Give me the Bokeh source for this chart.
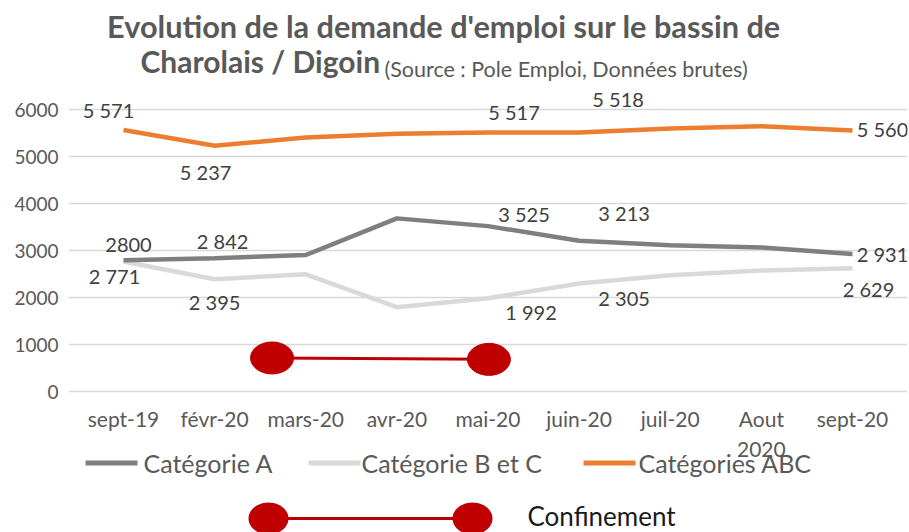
import math
from bokeh.plotting import figure
from bokeh.models import (ColumnDataSource, Label, LabelSet, PolyAnnotation, BoxAnnotation,
                          FixedTicker, Range1d, FactorRange)
from bokeh.core.properties import value
from bokeh.embed import file_html
from bokeh.resources import INLINE

# ---------------- data ----------------
months = ["sept-19", "févr-20", "mars-20", "avr-20", "mai-20", "juin-20", "juil-20", "Aout\n2020", "sept-20"]
cat_a = [2800, 2842, 2910, 3690, 3525, 3213, 3120, 3070, 2931]
cat_bc = [2771, 2395, 2500, 1800, 1992, 2305, 2480, 2580, 2629]
cat_abc = [5571, 5237, 5410, 5490, 5517, 5518, 5600, 5650, 5560]
y_ticks = [0, 1000, 2000, 3000, 4000, 5000, 6000]

label_idx = [0, 1, 4, 5, 8]
abc_labels = ["5 571", "5 237", "5 517", "5 518", "5 560"]
a_labels = ["2800", "2 842", "3 525", "3 213", "2 931"]
bc_labels = ["2 771", "2 395", "1 992", "2 305", "2 629"]

series_names = ["Catégorie A", "Catégorie B et C", "Catégories ABC"]
conf_name = "Confinement"
conf_x = [2.13, 4.51]   # synthetic category positions (between févr/mars -> mai)
conf_y = [720, 690]

title_1 = "Evolution de la demande d'emploi sur le bassin de"
title_2a = "Charolais / Digoin"
title_2b = "(Source : Pole Emploi, Données brutes)"

# ---------------- styles / layout ----------------
FONT = "Lato"
C_A = "#7F7F7F"
C_BC = "#D9D9D9"
C_ABC = "#ED7D31"
C_CONF = "#C00000"
TXT = "#404040"
AX = "#595959"

W, H = 909, 532
LEFT, RIGHT = 68, 907          # frame pixel extent
PAD = 0.1036                    # factor range padding
PX0, PX_PER_K = 391.3, 0.047    # y pixel of 0 and px per unit
Y1 = PX0 / PX_PER_K
Y0 = -(H - PX0) / PX_PER_K

def dx(X):   # pixel -> synthetic x
    return -PAD + (X - LEFT) / (RIGHT - LEFT) * (len(months) + 2 * PAD)
def dy(Y):   # pixel -> data y
    return Y1 - Y / H * (Y1 - Y0)

# label offsets in px (dx, up)
abc_off = [(-15, 20), (-9, -26), (26, 21), (39, 33), (30, 1)]
a_off = [(5, 15), (8, 17), (36, 12), (45, 28), (30, 0)]
bc_off = [(-9, -14), (0, -23), (43, -14), (45, -15), (16, -21)]

xr = FactorRange(*months, range_padding=PAD, range_padding_units="absolute")
p = figure(x_range=xr, y_range=Range1d(Y0, Y1),
           frame_width=RIGHT - LEFT, frame_height=H,
           min_border_left=LEFT, min_border_right=W - RIGHT, min_border_top=0, min_border_bottom=0,
           output_backend="svg", toolbar_location=None)
p.outline_line_color = None
p.background_fill_color = "white"
p.xgrid.grid_line_color = None
p.ygrid.grid_line_color = "#D9D9D9"
p.ygrid.grid_line_width = 1.5

p.yaxis.ticker = FixedTicker(ticks=y_ticks)
p.xaxis.fixed_location = 0
for ax in (p.xaxis, p.yaxis):
    ax.axis_line_color = None
    ax.major_tick_line_color = None
    ax.minor_tick_line_color = None
    ax.major_tick_out = 0
    ax.major_label_text_font = FONT
    ax.major_label_text_color = AX
p.yaxis.major_label_text_font_size = "19px"
p.yaxis.major_label_standoff = 10
p.xaxis.major_label_text_font_size = "21px"
p.xaxis.major_label_standoff = 14

p.line(months, cat_bc, line_width=4.5, line_color=C_BC)
p.line(months, cat_a, line_width=4.5, line_color=C_A)
p.line(months, cat_abc, line_width=4.5, line_color=C_ABC)

p.line(conf_x, conf_y, line_width=3, line_color=C_CONF)
p.ellipse(conf_x, conf_y, width=43, height=32, width_units="screen", height_units="screen",
          fill_color=C_CONF, line_color=C_CONF)

def add_labels(vals, texts, offs):
    src = ColumnDataSource(dict(
        x=[months[i] for i in label_idx],
        y=[vals[i] for i in label_idx],
        t=texts,
        ox=[o[0] for o in offs],
        oy=[o[1] for o in offs],
    ))
    ls = LabelSet(x="x", y="y", text="t", source=src, x_offset="ox", y_offset="oy",
                  text_align="center", text_baseline="middle",
                  text_font=value(FONT), text_font_size=value("20px"), text_color=TXT)
    p.add_layout(ls)

add_labels(cat_abc, abc_labels, abc_off)
add_labels(cat_a, a_labels, a_off)
add_labels(cat_bc, bc_labels, bc_off)

# title
p.add_layout(Label(x=dx(443.5), y=dy(26), text=title_1,
                   text_align="center", text_baseline="middle", text_font=FONT,
                   text_font_style="bold", text_font_size="30.7px", text_color=AX))
p.add_layout(Label(x=dx(140), y=dy(60), text=title_2a,
                   text_align="left", text_baseline="middle", text_font=FONT,
                   text_font_style="bold", text_font_size="30px", text_color=AX))
p.add_layout(Label(x=dx(384), y=dy(68), text=title_2b,
                   text_align="left", text_baseline="middle", text_font=FONT,
                   text_font_size="21.5px", text_color=AX))

# legend row
leg = [(85, 137, 143, C_A), (308, 360, 361, C_BC), (583, 635, 638, C_ABC)]
for (x0, x1, tx, col), name in zip(leg, series_names):
    p.add_layout(BoxAnnotation(left=dx(x0), right=dx(x1), bottom=dy(465), top=dy(460),
                               fill_color=col, fill_alpha=1, line_color=None))
    p.add_layout(Label(x=dx(tx), y=dy(462), text=name,
                       text_align="left", text_baseline="middle", text_font=FONT,
                       text_font_size="25px", text_color=AX))

# confinement legend
p.add_layout(BoxAnnotation(left=dx(268), right=dx(472), bottom=dy(519.5), top=dy(516.5),
                           fill_color=C_CONF, fill_alpha=1, line_color=None))
for cx in (268, 472):
    xs = [dx(cx + 20 * math.cos(2 * math.pi * k / 48)) for k in range(48)]
    ys = [dy(518 + 16 * math.sin(2 * math.pi * k / 48)) for k in range(48)]
    p.add_layout(PolyAnnotation(xs=xs, ys=ys, fill_color=C_CONF, fill_alpha=1, line_color=None))
p.add_layout(Label(x=dx(527), y=dy(515), text=conf_name,
                   text_align="left", text_baseline="middle", text_font=FONT,
                   text_font_size="26px", text_color="#1a1a1a"))

open("out.html", "w").write(file_html(p, INLINE))
